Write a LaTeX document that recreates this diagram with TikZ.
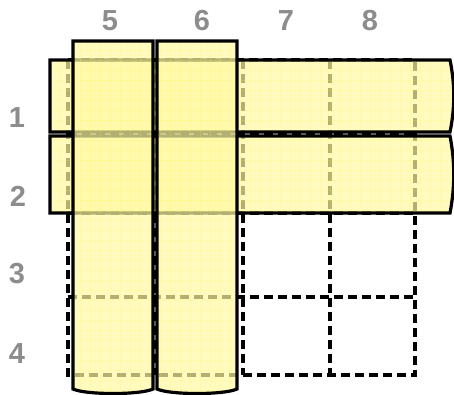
\documentclass[tikz,border=0pt]{standalone}
\usepackage{fontspec}
\setmainfont{Liberation Sans}
\begin{document}
\begin{tikzpicture}[x=1pt,y=-1pt,
  gridline/.style={line width=3.2pt, dash pattern=on 9pt off 5pt},
  stripfill/.style={fill=yellow!36, fill opacity=0.7},
  stripborder/.style={draw=black, line width=3.2pt, line join=miter},
  texture/.style={draw=yellow!70, line width=0.6pt, opacity=0.18},
  lbl/.style={font=\fontsize{29}{29}\selectfont\bfseries, text=black!45, inner sep=0pt}]
\useasboundingbox (0,0) rectangle (454,394);
% dashed grid
\draw[gridline] (68,60) rectangle (415,375);
\foreach \gx in {155,243,330} \draw[gridline] (\gx,60) -- (\gx,375);
\foreach \gy in {135,213,297} \draw[gridline] (68,\gy) -- (415,\gy);
% row strips
\foreach \ta/\tb/\ca/\cb in {60/132/84/108, 136/213/162/187}{
  \begin{scope}
    \clip (50,\ta) -- (450,\ta) .. controls (455,\ca) and (455,\cb) .. (450,\tb) -- (50,\tb) -- cycle;
    \fill[stripfill] (0,0) rectangle (454,394);
    \foreach \i in {0,...,46} \draw[texture] (\i*10,0) -- (\i*10,394);
    \foreach \i in {0,...,40} \draw[texture] (0,\i*10) -- (454,\i*10);
  \end{scope}
  \draw[stripborder] (50,\ta) -- (450,\ta) .. controls (455,\ca) and (455,\cb) .. (450,\tb) -- (50,\tb) -- cycle;
}
% column strips
\foreach \la/\lb/\ka/\kb in {73/153/86/140, 157/237/170/224}{
  \begin{scope}
    \clip (\la,41) -- (\lb,41) -- (\lb,389) .. controls (\kb,395) and (\ka,395) .. (\la,389) -- cycle;
    \fill[stripfill] (0,0) rectangle (454,394);
    \foreach \i in {0,...,46} \draw[texture] (\i*10,0) -- (\i*10,394);
    \foreach \i in {0,...,40} \draw[texture] (0,\i*10) -- (454,\i*10);
  \end{scope}
  \draw[stripborder] (\la,41) -- (\lb,41) -- (\lb,389) .. controls (\kb,395) and (\ka,395) .. (\la,389) -- cycle;
}
% labels
\node[lbl] (c5) at (110,21) {5};
\node[lbl] (c6) at (202,21) {6};
\node[lbl] (c7) at (286,21) {7};
\node[lbl] (c8) at (370,21) {8};
\node[lbl] (r1) at (17,118) {1};
\node[lbl] (r2) at (18,196) {2};
\node[lbl] (r3) at (17,274) {3};
\node[lbl] (r4) at (17,354) {4};
\end{tikzpicture}
\end{document}
